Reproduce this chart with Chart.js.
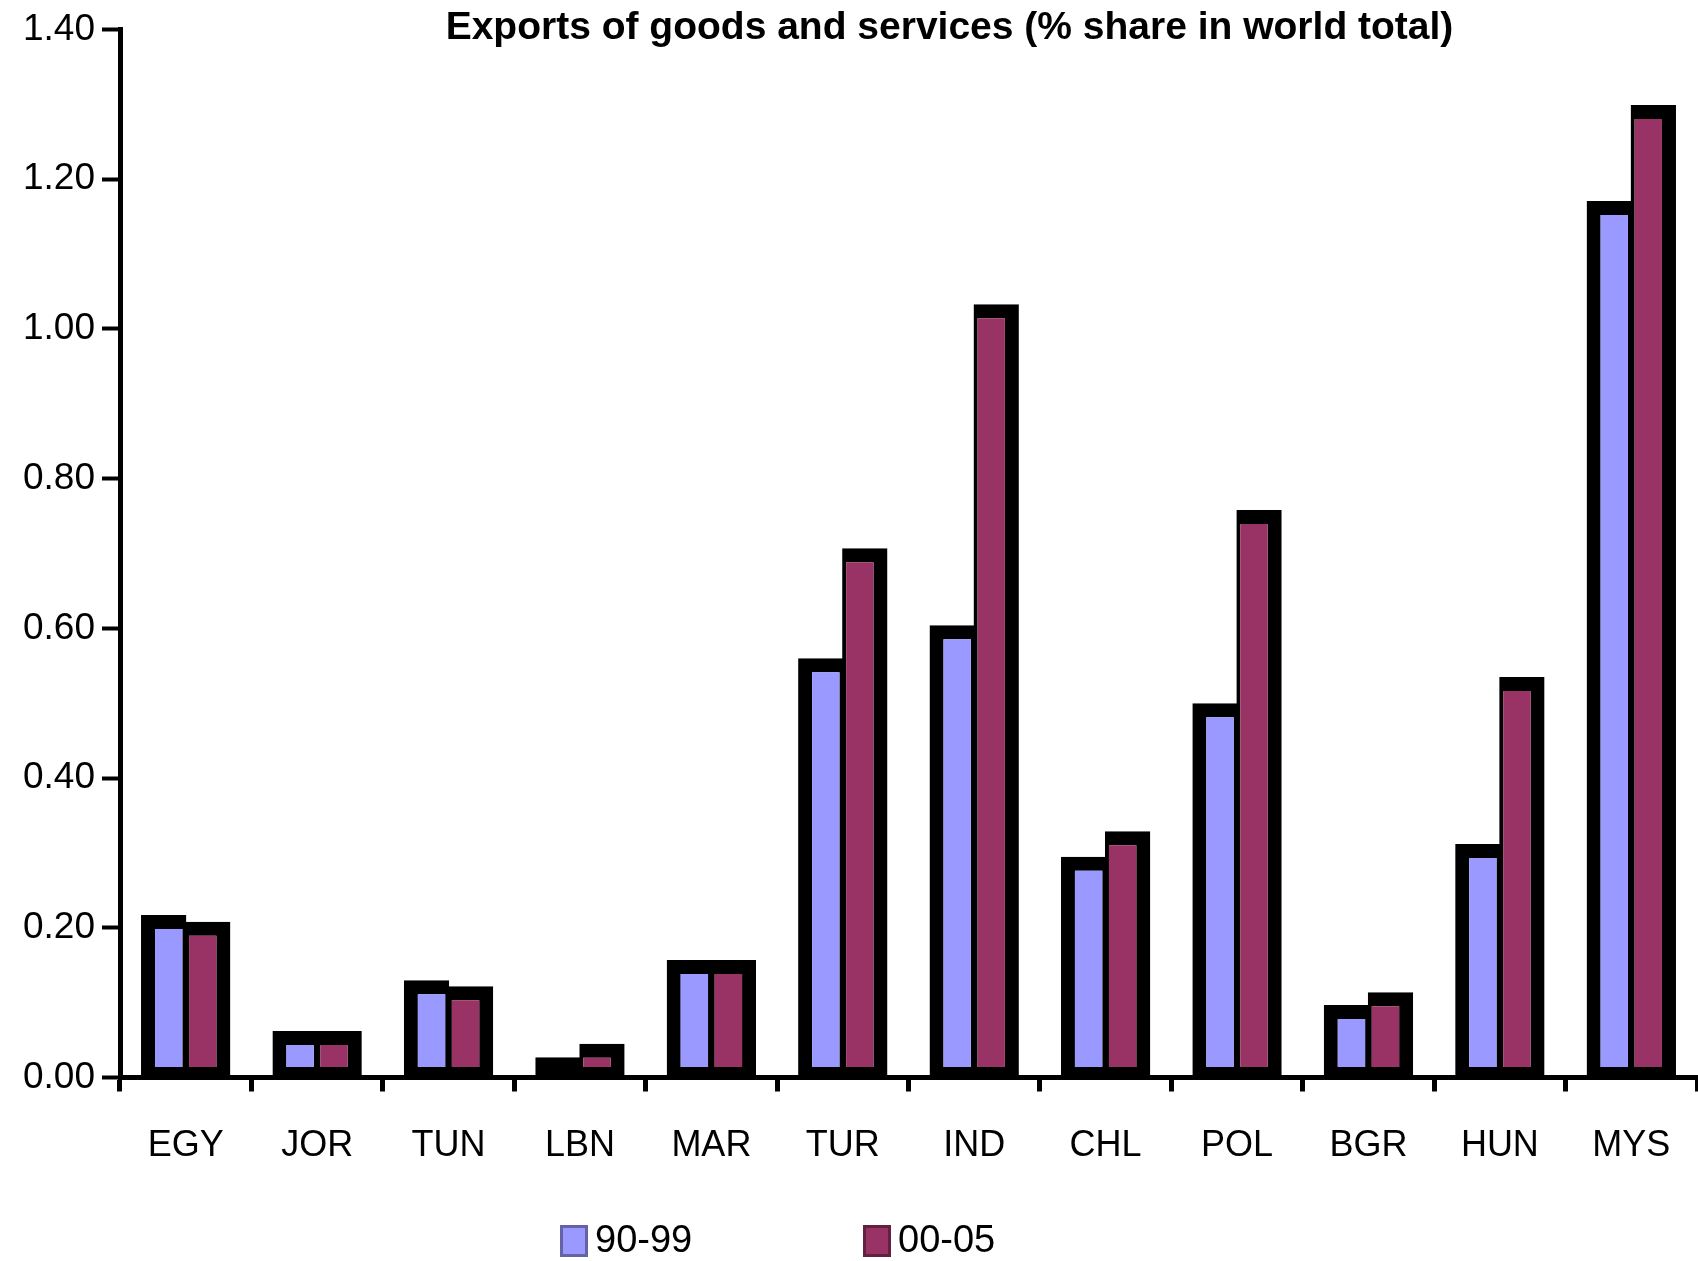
<!DOCTYPE html>
<html>
<head>
<meta charset="utf-8">
<script src="https://cdn.jsdelivr.net/npm/chart.js@4.4.1/dist/chart.umd.min.js"></script>
<style>
  html, body { margin: 0; padding: 0; background: #ffffff; overflow: hidden; }
  #wrap { width: 1698px; height: 1261px; }
</style>
</head>
<body>
<div id="wrap"><canvas id="exportsChart" width="1698" height="1261"></canvas></div>
<script>
// Exports of goods and services, % share in world total
const categories = ['EGY', 'JOR', 'TUN', 'LBN', 'MAR', 'TUR', 'IND', 'CHL', 'POL', 'BGR', 'HUN', 'MYS'];
const share9099 = [0.217, 0.062, 0.130, 0.027, 0.157, 0.560, 0.604, 0.295, 0.500, 0.097, 0.312, 1.171];
const share0005 = [0.208, 0.062, 0.122, 0.045, 0.157, 0.707, 1.033, 0.329, 0.758, 0.114, 0.535, 1.299];
const seriesNames = ['90-99', '00-05'];
const titleText = 'Exports of goods and services (% share in world total)';
const yMin = 0;
const yMax = 1.4;
const yStep = 0.2;

const FONT = "'Liberation Sans', Arial, 'DejaVu Sans', sans-serif";
const BLUE = '#9999FF';
const PLUM = '#993366';

// Moves the title block sideways after layout so it sits over the plot.
const titleOffset = {
  id: 'titleOffset',
  afterLayout(chart) {
    const t = chart.titleBlock;
    if (t) { t.left += 101; t.right += 101; }
  }
};

// Key drawn below the category labels.
const seriesKey = {
  id: 'seriesKey',
  afterDraw(chart) {
    const ctx = chart.ctx;
    const slots = [560, 863];
    const cy = 1241;
    ctx.save();
    chart.data.datasets.forEach((ds, i) => {
      const x = slots[i];
      ctx.fillStyle = ds.backgroundColor;
      ctx.fillRect(x, cy - 16, 28, 32);
      ctx.strokeStyle = 'rgba(0,0,0,0.35)';
      ctx.lineWidth = 3;
      ctx.strokeRect(x + 1.5, cy - 14.5, 25, 29);
      ctx.fillStyle = '#000';
      ctx.font = '38px ' + FONT;
      ctx.textBaseline = 'middle';
      ctx.textAlign = 'left';
      ctx.fillText(ds.label, x + 35, cy + 1);
    });
    ctx.restore();
  }
};

new Chart(document.getElementById('exportsChart'), {
  type: 'bar',
  data: {
    labels: categories,
    datasets: [
      {
        label: seriesNames[0],
        data: share9099,
        backgroundColor: BLUE,
        borderColor: '#000',
        borderWidth: { top: 14, left: 14, right: 4, bottom: 10 },
        borderSkipped: false
      },
      {
        label: seriesNames[1],
        data: share0005,
        backgroundColor: PLUM,
        borderColor: '#000',
        borderWidth: { top: 14, left: 4, right: 14, bottom: 10 },
        borderSkipped: false
      }
    ]
  },
  options: {
    responsive: false,
    animation: false,
    devicePixelRatio: 1,
    layout: { padding: { left: 0, right: 1, top: 29.5, bottom: 73.5 } },
    datasets: {
      bar: { categoryPercentage: 0.67, barPercentage: 1.03, inflateAmount: 0 }
    },
    plugins: {
      legend: { display: false },
      tooltip: { enabled: false },
      title: {
        display: true,
        text: titleText,
        color: '#000',
        font: { family: FONT, size: 39, weight: 'bold', lineHeight: 1.2 },
        padding: { top: -25, bottom: -21.8 }
      }
    },
    scales: {
      x: {
        grid: { display: true, drawOnChartArea: false, offset: true, tickLength: 14, tickWidth: 5, tickColor: '#000', color: '#000' },
        border: { display: true, color: '#000', width: 5 },
        ticks: { color: '#000', font: { family: FONT, size: 36 }, padding: 33, maxRotation: 0, autoSkip: false },
        afterFit(scale) {
          scale.height = 110;
          scale.paddingLeft = 0;
          scale.paddingRight = 0;
        }
      },
      y: {
        min: yMin,
        max: yMax,
        grid: { display: true, drawOnChartArea: false, tickLength: 18, tickWidth: 4, tickColor: '#000', color: '#000' },
        border: { display: true, color: '#000', width: 5 },
        ticks: {
          stepSize: yStep,
          color: '#000',
          padding: 7,
          font: { family: FONT, size: 37 },
          callback: (v) => Number(v).toFixed(2)
        },
        afterFit(scale) { scale.width = 120; }
      }
    }
  },
  plugins: [titleOffset, seriesKey]
});
</script>
</body>
</html>
